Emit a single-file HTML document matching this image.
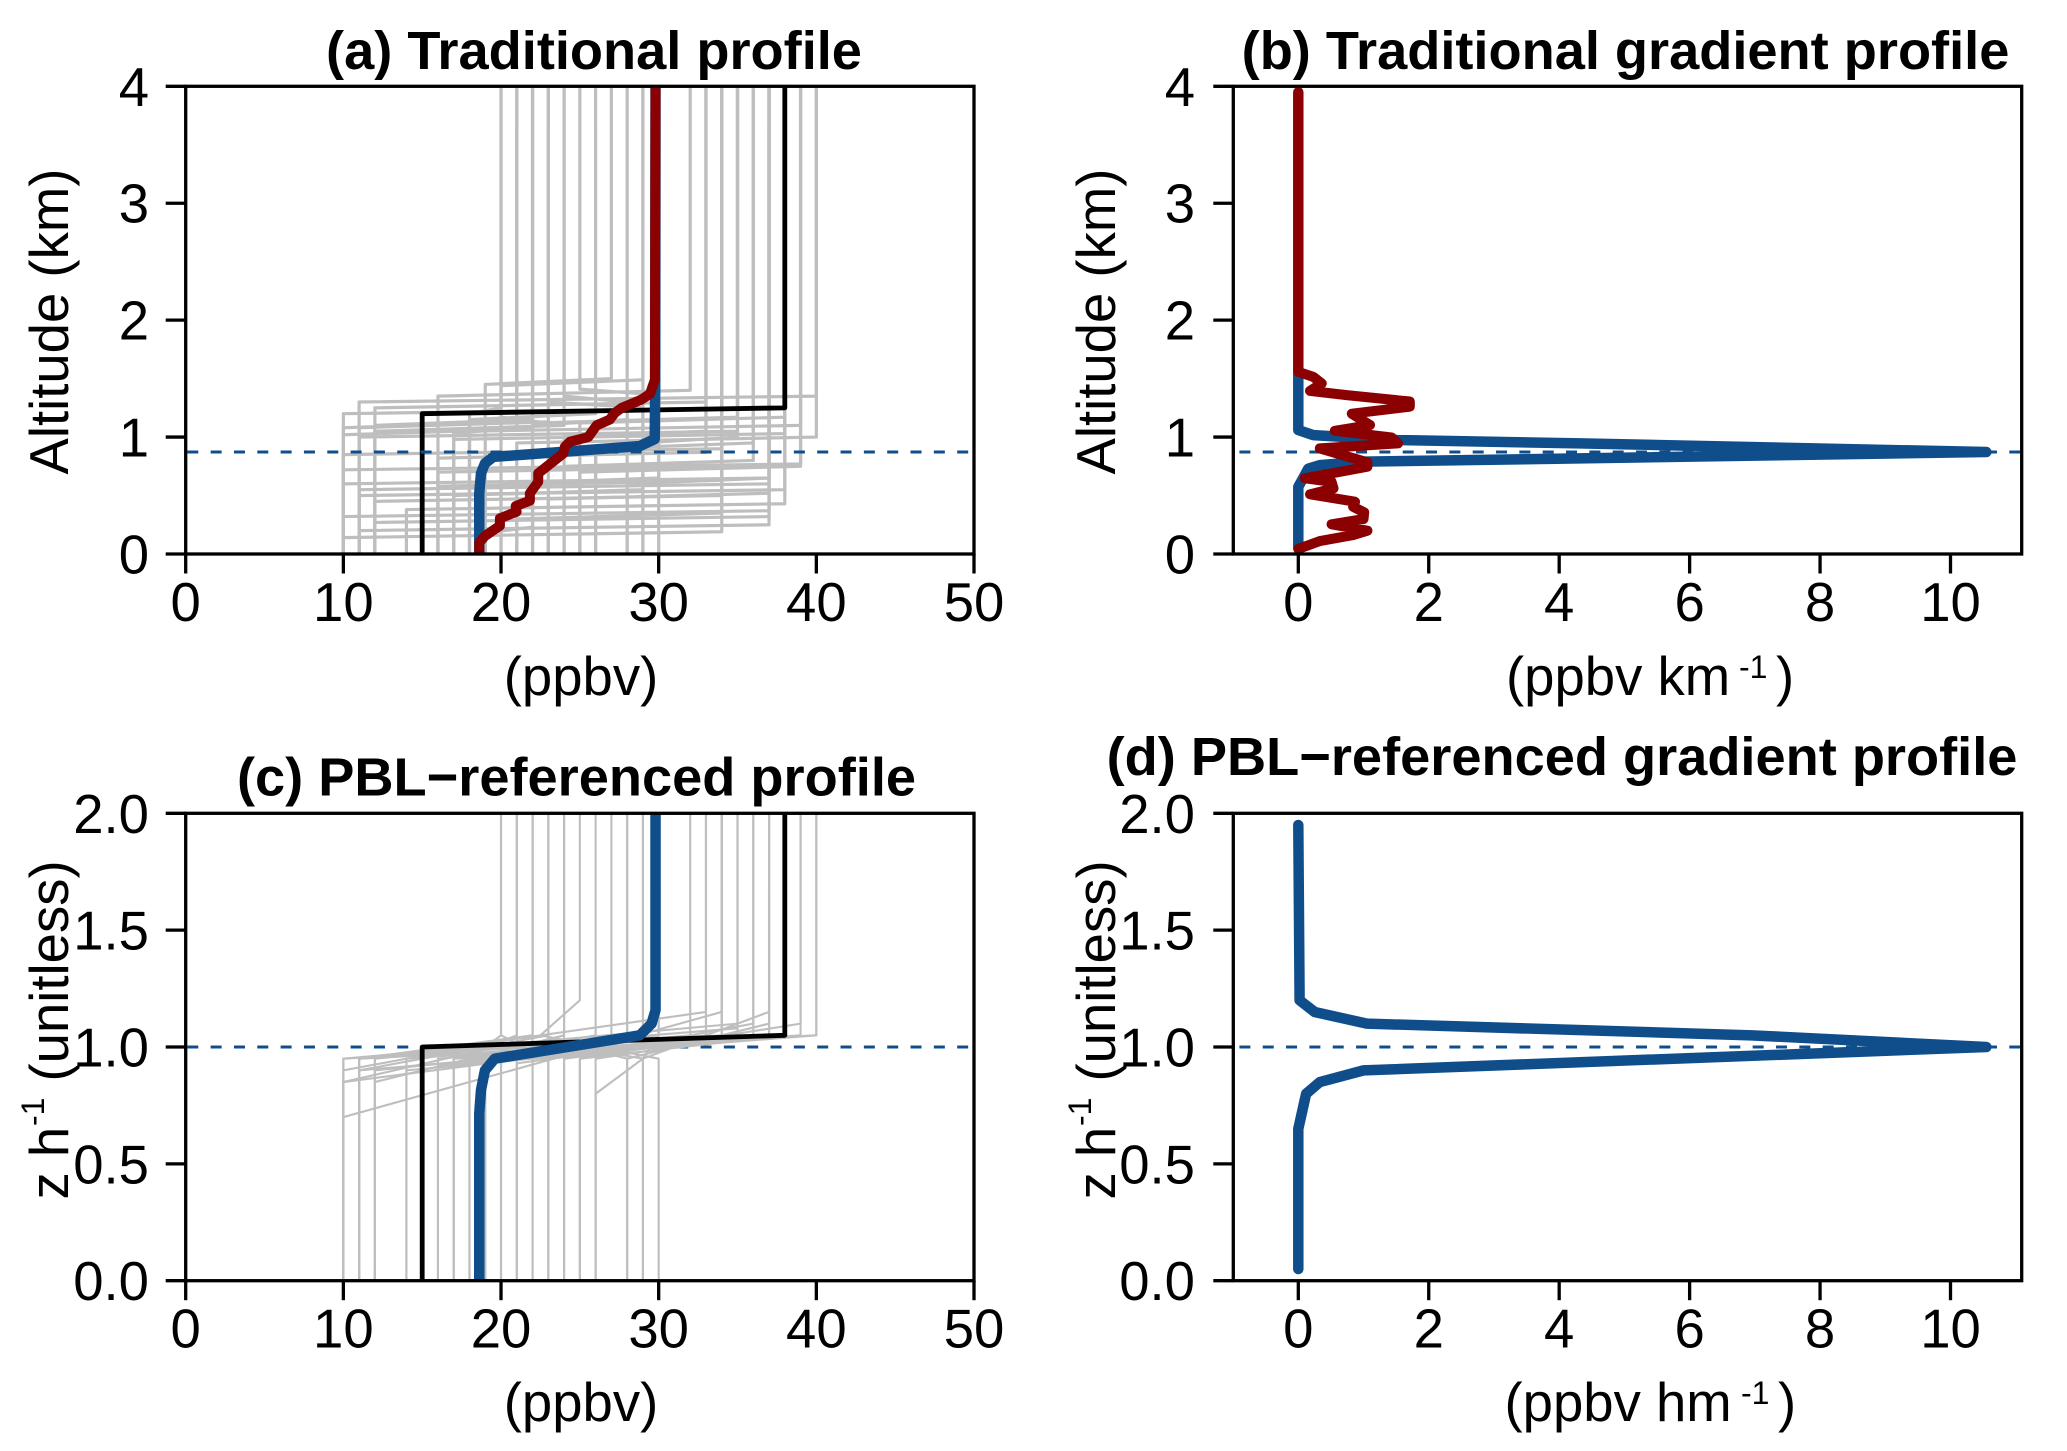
<!DOCTYPE html>
<html lang="en">
<head>
<meta charset="utf-8">
<title>Ozone profiles</title>
<style>
html,body{margin:0;padding:0;background:#fff;}
svg{display:block;}
text{font-family:"Liberation Sans",Arial,sans-serif;fill:#000;}
</style>
</head>
<body>
<svg id="fig" xmlns="http://www.w3.org/2000/svg" width="2067" height="1451" viewBox="0 0 2067 1451"></svg>
<script>
// ---------- tick labels ----------
const concTicks = [0, 10, 20, 30, 40, 50];
const gradTicks = [0, 2, 4, 6, 8, 10];
const altTicks = [0, 1, 2, 3, 4];
const zTicks = [0, 0.5, 1, 1.5, 2];
const zTickLabels = ["0.0", "0.5", "1.0", "1.5", "2.0"];

// ---------- reference level ----------
const pblAlt = 0.872;
const pblZ = 1.0;

// ---------- panel (a) ensemble ----------
const grayALower = [10, 11, 12, 16, 19, 20, 30, 10, 11, 12, 17, 18, 21, 22, 23, 24, 25, 26, 28, 29, 14, 11, 10, 12, 16, 10, 11, 12, 10, 16, 17, 18, 20, 21, 22, 23, 24, 25, 26, 16, 11, 12, 10, 17, 19, 18, 29, 28, 10, 10, 11];
const grayAUpper = [35, 40, 33, 32, 27, 29, 25, 22, 23, 24, 21, 26, 40, 28, 20, 36, 39, 30, 37, 35, 38, 37, 34, 37, 33, 34, 37, 34, 37, 37, 38, 39, 30, 34, 35, 37, 33, 38, 36, 34, 35, 22, 21, 29, 22, 20, 23, 24, 39, 37, 38];
const grayALowTop = [1.2, 1.3, 1.25, 1.35, 1.45, 1.44, 1.36, 1.02, 1.08, 1.05, 1.03, 1.15, 0.95, 1.1, 1.12, 0.75, 0.7, 0.9, 0.6, 0.95, 0.38, 0.2, 0.14, 0.27, 0.82, 0.85, 0.55, 0.45, 0.32, 0.7, 0.98, 1.05, 0.6, 0.3, 1.12, 0.47, 1.0, 1.12, 0.9, 0.58, 1.0, 1.1, 1.08, 0.5, 0.18, 1.2, 1.25, 1.3, 0.72, 0.6, 0.5];
const grayAHighBase = [1.25, 1.35, 1.3, 1.4, 1.5, 1.49, 1.41, 1.07, 1.13, 1.1, 1.08, 1.2, 1.0, 1.15, 1.17, 0.8, 0.75, 0.95, 0.65, 1.0, 0.43, 0.25, 0.19, 0.32, 0.87, 0.9, 0.6, 0.5, 0.37, 0.75, 1.03, 1.1, 0.65, 0.35, 1.17, 0.52, 1.05, 1.17, 0.95, 0.63, 1.05, 1.15, 1.13, 0.55, 0.23, 1.25, 1.3, 1.35, 0.77, 0.65, 0.55];

const blackAConc = [15, 15, 38, 38];
const blackAAlt = [0, 1.2, 1.25, 4];

const blueAConc = [18.62, 18.62, 18.73, 18.98, 19.5, 28.8, 29.75, 29.78, 29.8];
const blueAAlt = [0, 0.52, 0.69, 0.775, 0.83, 0.923, 0.983, 1.46, 4];

const redAConc = [18.62, 18.62, 18.98, 19.93, 19.93, 20.99, 20.93, 21.83, 21.83, 22.36, 22.36, 23.95, 24.05, 24.37, 25.53, 26.06, 26.9, 27.2, 27.65, 28.9, 29.45, 29.76, 29.8];
const redAAlt = [0, 0.097, 0.154, 0.242, 0.305, 0.362, 0.41, 0.456, 0.519, 0.618, 0.69, 0.86, 0.917, 0.96, 1.0, 1.1, 1.15, 1.205, 1.25, 1.32, 1.37, 1.49, 4];

// ---------- panel (b) gradients ----------
const blueBGrad = [0, 0, 0.1, 0.153, 0.33, 1.0, 4.32, 10.55, 4.32, 1.51, 0.23, 0, 0, 0];
const blueBAlt = [0.05, 0.575, 0.675, 0.73, 0.76, 0.79, 0.818, 0.872, 0.946, 0.975, 1.017, 1.06, 1.515, 3.95];

const redBGrad = [0, 0.33, 0.84, 1.06, 0.51, 1.0, 1.01, 0.84, 0.87, 0.18, 0.54, 0.51, 0.1, 1.06, 1.06, 0.33, 1.53, 1.43, 0.56, 1.1, 0.82, 1.71, 1.71, 0.74, 0.18, 0.36, 0.23, 0, 0];
const redBAlt = [0.043, 0.111, 0.162, 0.199, 0.254, 0.299, 0.356, 0.404, 0.447, 0.51, 0.561, 0.618, 0.647, 0.746, 0.784, 0.903, 0.946, 0.997, 1.054, 1.103, 1.2, 1.26, 1.304, 1.359, 1.395, 1.459, 1.515, 1.558, 3.95];

// ---------- panel (c) ensemble ----------
const grayCLower = [10, 11, 12, 16, 19, 20, 30, 10, 11, 12, 17, 18, 21, 22, 23, 24, 25, 26, 28, 29, 10, 14, 11, 10, 10, 11, 12, 16, 17, 18, 20, 21, 22, 23, 24, 25, 26, 10, 11, 12, 14, 17, 18, 19, 28, 29];
const grayCLowTop = [0.95, 0.95, 0.95, 0.95, 0.95, 0.95, 0.95, 0.9, 0.9, 0.85, 0.95, 0.95, 0.95, 0.95, 0.95, 0.95, 0.95, 0.8, 0.95, 0.95, 0.7, 0.9, 0.95, 0.85, 0.95, 0.9, 0.9, 0.92, 0.95, 0.95, 0.95, 0.93, 0.95, 0.95, 0.95, 0.95, 0.95, 0.85, 0.95, 0.95, 0.95, 0.95, 0.95, 0.95, 0.95, 0.95];
const grayCMidConc = [null, null, null, null, null, null, 22.5, null, null, null, null, null, null, null, null, null, null, 29, null, null, null, null, null, null, null, null, null, null, null, null, null, null, null, null, null, null, null, null, null, null, null, null, null, null, null, null];
const grayCMidZ = [null, null, null, null, null, null, 1.05, null, null, null, null, null, null, null, null, null, null, 0.95, null, null, null, null, null, null, null, null, null, null, null, null, null, null, null, null, null, null, null, null, null, null, null, null, null, null, null, null];
const grayCUpper = [35, 40, 33, 32, 27, 29, 25, 22, 23, 24, 21, 26, 40, 28, 20, 36, 39, 30, 37, 37, 34, 38, 35, 33, 34, 37, 34, 37, 38, 39, 30, 34, 35, 37, 33, 38, 36, 21, 22, 22, 28, 29, 20, 22, 24, 23];
const grayCHighBase = [1.1, 1.05, 1.15, 1.05, 1.05, 1.05, 1.2, 1.05, 1.05, 1.05, 1.05, 1.05, 1.05, 1.05, 1.05, 1.1, 1.1, 1.05, 1.1, 1.15, 1.15, 1.05, 1.08, 1.05, 1.05, 1.05, 1.05, 1.05, 1.05, 1.05, 1.05, 1.05, 1.05, 1.05, 1.03, 1.05, 1.05, 1.02, 1.05, 1.02, 1.02, 1.0, 1.05, 1.05, 1.02, 1.02];

const blackCConc = [15, 15, 38, 38];
const blackCZ = [0, 1.0, 1.05, 2];

const blueCConc = [18.62, 18.62, 18.73, 18.98, 19.6, 28.8, 29.55, 29.8, 29.8];
const blueCZ = [0, 0.716, 0.816, 0.9, 0.95, 1.05, 1.1, 1.158, 2];

// ---------- panel (d) gradient ----------
const blueDGrad = [0, 0, 0.08, 0.12, 0.33, 1.0, 10.55, 6.95, 1.05, 0.25, 0.02, 0];
const blueDZ = [0.05, 0.65, 0.75, 0.8, 0.85, 0.9, 1.0, 1.05, 1.1, 1.15, 1.2, 1.95];

// ---------- styles ----------
const BLUE = "#104E8B", RED = "#8B0000", GRAY = "#BEBEBE", BLACK = "#000000";
const FONT = 54.5;
const TITLE_FONT = 54.2;
const svg = document.getElementById("fig");
const NS = "http://www.w3.org/2000/svg";

function make(tag, parent, name, attrs) {
  const el = document.createElementNS(NS, tag);
  
  
  for (const k in attrs) el.setAttribute(k, attrs[k]);
  parent.appendChild(el);
  return el;
}
function label(parent, name, str, x, y, size, anchor, weight, rot) {
  const attrs = {"font-size": size, "text-anchor": anchor || "start"};
  if (weight) attrs["font-weight"] = weight;
  if (rot) attrs.transform = "translate(" + x + "," + y + ") rotate(-90)";
  else { attrs.x = x; attrs.y = y; }
  const t = make("text", parent, name, attrs);
  t.textContent = str;
  return t;
}
function scale(d0, d1, r0, r1) {
  return v => r0 + (v - d0) * (r1 - r0) / (d1 - d0);
}
function line(parent, name, xs, ys, sx, sy, color, width) {
  const pts = xs.map((v, i) => sx(v).toFixed(2) + "," + sy(ys[i]).toFixed(2)).join(" ");
  return make("polyline", parent, name, {
    points: pts, fill: "none", stroke: color, "stroke-width": width,
    "stroke-linejoin": "round", "stroke-linecap": "round"
  });
}
function panel(id, box, xDom, yDom) {
  const g = make("g", svg, "panel-" + id, {});
  const defs = make("clipPath", g, "clip-" + id, {id: "clip-" + id});
  make("rect", defs, "clip-rect-" + id, {x: box.l, y: box.t, width: box.r - box.l, height: box.b - box.t});
  const plot = make("g", g, "plot-area-" + id, {"clip-path": "url(#clip-" + id + ")"});
  return {
    g: g, plot: plot, box: box,
    sx: scale(xDom[0], xDom[1], box.x0, box.x1),
    sy: scale(yDom[0], yDom[1], box.b, box.t)
  };
}
function axes(p, xTicks, yTicks, yLabels, yLabelRight) {
  const b = p.box, g = p.g;
  make("rect", g, "plot-frame", {x: b.l, y: b.t, width: b.r - b.l, height: b.b - b.t, fill: "none", stroke: "#000", "stroke-width": 3.3});
  xTicks.forEach(v => {
    const x = p.sx(v);
    make("line", g, "x-tick", {x1: x, x2: x, y1: b.b, y2: b.b + 19.5, stroke: "#000", "stroke-width": 3.3});
    label(g, "x-tick-label", String(v), x, b.b + 67, FONT, "middle");
  });
  yTicks.forEach((v, i) => {
    const y = p.sy(v);
    make("line", g, "y-tick", {x1: b.l - 20, x2: b.l, y1: y, y2: y, stroke: "#000", "stroke-width": 3.3});
    label(g, "y-tick-label", yLabels[i], yLabelRight, y + 19.5, FONT, "end");
  });
}
function dash(parent, name, p, startX, value) {
  const y = p.sy(value);
  make("line", parent, name, {x1: startX, x2: p.box.r, y1: y, y2: y, stroke: BLUE, "stroke-width": 3, "stroke-dasharray": "11 12.33"});
}

const boxA = {l: 185.7, r: 974, t: 86.3, b: 554, x0: 185.7, x1: 974};
const boxB = {l: 1233.3, r: 2021.7, t: 86.3, b: 554, x0: 1298.3, x1: 1950.5};
const boxC = {l: 185.7, r: 974, t: 813.3, b: 1280.7, x0: 185.7, x1: 974};
const boxD = {l: 1233.3, r: 2021.7, t: 813.3, b: 1280.7, x0: 1298.3, x1: 1950.5};

// ---------- panel a ----------
const pa = panel("a", boxA, [0, 50], [0, 4]);
grayALower.forEach((low, i) => {
  line(pa.plot, "gray-profile", [low, low, grayAUpper[i], grayAUpper[i]], [0, grayALowTop[i], grayAHighBase[i], 4], pa.sx, pa.sy, GRAY, 3.2);
});
line(pa.plot, "idealized-profile-black", blackAConc, blackAAlt, pa.sx, pa.sy, BLACK, 4.8);
dash(pa.plot, "pbl-height-dashed-line", pa, 187.3, pblAlt);
line(pa.plot, "mean-pbl-referenced-profile-blue", blueAConc, blueAAlt, pa.sx, pa.sy, BLUE, 10.5);
line(pa.plot, "mean-traditional-profile-red", redAConc, redAAlt, pa.sx, pa.sy, RED, 10);
axes(pa, concTicks, altTicks, altTicks.map(String), 149);
label(pa.g, "panel-a-title", "(a) Traditional profile", 594, 69, TITLE_FONT, "middle", "bold");
label(pa.g, "x-axis-title-a", "(ppbv)", 581, 695, FONT, "middle");
label(pa.g, "y-axis-title-a", "Altitude (km)", 68, 474.5, FONT, "start", null, true);

// ---------- panel b ----------
const pb = panel("b", boxB, [0, 10], [0, 4]);
dash(pb.plot, "pbl-height-dashed-line", pb, 1239.4, pblAlt);
line(pb.plot, "gradient-pbl-referenced-blue", blueBGrad, blueBAlt, pb.sx, pb.sy, BLUE, 10.5);
line(pb.plot, "gradient-traditional-red", redBGrad, redBAlt, pb.sx, pb.sy, RED, 10);
axes(pb, gradTicks, altTicks, altTicks.map(String), 1195);
label(pb.g, "panel-b-title", "(b) Traditional gradient profile", 1625.5, 69, TITLE_FONT, "middle", "bold");
label(pb.g, "x-axis-title-b", "(ppbv km", 1506, 695, FONT, "start");
label(pb.g, "x-axis-title-b-exponent", "-1", 1739, 678, 32, "start");
label(pb.g, "x-axis-title-b-close", ")", 1776, 695, FONT, "start");
label(pb.g, "y-axis-title-b", "Altitude (km)", 1115, 474.5, FONT, "start", null, true);

// ---------- panel c ----------
const pc = panel("c", boxC, [0, 50], [0, 2]);
dash(pc.plot, "pbl-height-dashed-line", pc, 187.3, pblZ);
grayCLower.forEach((low, i) => {
  const xs = [low, low];
  const ys = [0, grayCLowTop[i]];
  if (grayCMidConc[i] !== null) {
    xs.push(grayCMidConc[i]);
    ys.push(grayCMidZ[i]);
  }
  xs.push(grayCUpper[i], grayCUpper[i]);
  ys.push(grayCHighBase[i], 2);
  line(pc.plot, "gray-profile", xs, ys, pc.sx, pc.sy, GRAY, 2.1);
});
line(pc.plot, "idealized-profile-black", blackCConc, blackCZ, pc.sx, pc.sy, BLACK, 4.8);
line(pc.plot, "mean-pbl-referenced-profile-blue", blueCConc, blueCZ, pc.sx, pc.sy, BLUE, 10.5);
axes(pc, concTicks, zTicks, zTickLabels, 149);
label(pc.g, "panel-c-title", "(c) PBL\u2212referenced profile", 576.5, 795.4, TITLE_FONT, "middle", "bold");
label(pc.g, "x-axis-title-c", "(ppbv)", 581, 1421, FONT, "middle");
label(pc.g, "y-axis-title-c-zh", "z h", 68, 1199.5, FONT, "start", null, true);
label(pc.g, "y-axis-title-c-exponent", "-1", 44, 1126, 32, "start", null, true);
label(pc.g, "y-axis-title-c-unit", "(unitless)", 68, 1081.5, FONT, "start", null, true);

// ---------- panel d ----------
const pd = panel("d", boxD, [0, 10], [0, 2]);
dash(pd.plot, "pbl-height-dashed-line", pd, 1239.4, pblZ);
line(pd.plot, "gradient-pbl-referenced-blue", blueDGrad, blueDZ, pd.sx, pd.sy, BLUE, 10.5);
axes(pd, gradTicks, zTicks, zTickLabels, 1195);
label(pd.g, "panel-d-title", "(d) PBL\u2212referenced gradient profile", 1562, 775, TITLE_FONT, "middle", "bold");
label(pd.g, "x-axis-title-d", "(ppbv hm", 1504.5, 1421, FONT, "start");
label(pd.g, "x-axis-title-d-exponent", "-1", 1741, 1404, 32, "start");
label(pd.g, "x-axis-title-d-close", ")", 1778, 1421, FONT, "start");
label(pd.g, "y-axis-title-d-zh", "z h", 1115, 1199.5, FONT, "start", null, true);
label(pd.g, "y-axis-title-d-exponent", "-1", 1091, 1126, 32, "start", null, true);
label(pd.g, "y-axis-title-d-unit", "(unitless)", 1115, 1081.5, FONT, "start", null, true);
</script>
</body>
</html>
